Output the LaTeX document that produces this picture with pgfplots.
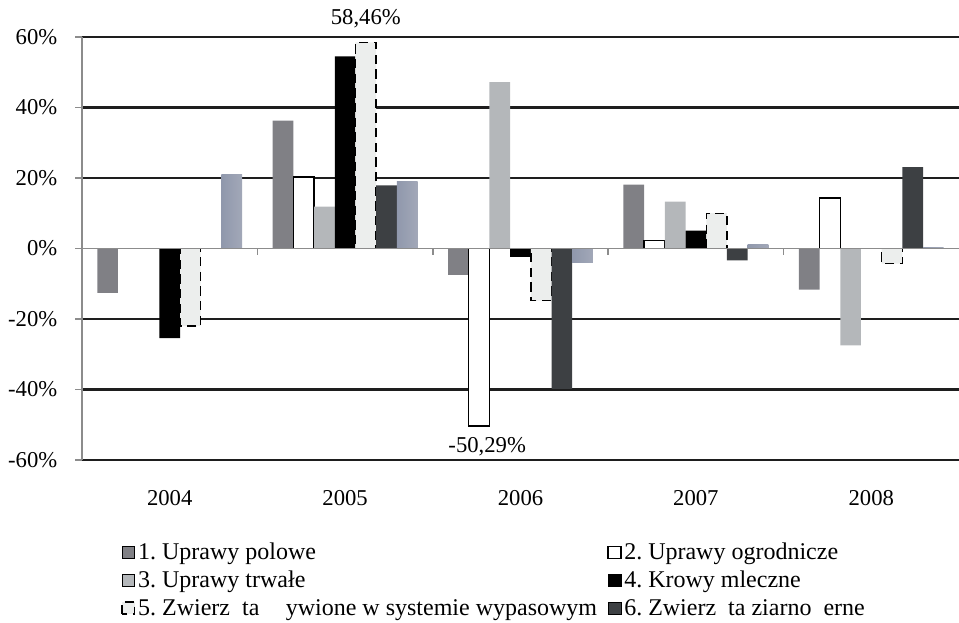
\documentclass[border=0pt]{standalone}
\usepackage{fontspec}
\setmainfont{Liberation Serif}
\usepackage{pgfplots}
\pgfplotsset{compat=1.18}
\definecolor{c1}{HTML}{808085}
\definecolor{c3}{HTML}{B4B7BA}
\definecolor{c5}{HTML}{ECEEED}
\definecolor{c6}{HTML}{3D4043}
\definecolor{c7l}{HTML}{9098AC}
\definecolor{c7m}{HTML}{ECEEF2}
\definecolor{c7r}{HTML}{A2A8B8}
\definecolor{axgray}{HTML}{8C8C8C}
\definecolor{gridc}{HTML}{1E1E1E}
\frenchspacing
\begin{document}
\begin{tikzpicture}
\begin{axis}[
  name=ax, at={(0,0)}, anchor=south west,
  width=657.75pt, height=317.25pt, scale only axis,
  xmin=-0.5, xmax=4.5, ymin=-60, ymax=60,
  ybar=0pt, bar width=0.118,
  clip=false,
  axis lines*=left,
  x axis line style={draw=none},
  y axis line style={axgray, line width=1.5pt},
  xtick={0,1,2,3,4}, xticklabels={2004,2005,2006,2007,2008},
  x tick style={draw=none},
  ytick={-60,-40,-20,20,40,60},
  extra y ticks={0}, extra y tick style={grid=none},
  y tick style={axgray, line width=1.2pt},
  tick align=outside, major tick length=5pt,
  yticklabel={\pgfmathprintnumber{\tick}\%},
  /pgf/number format/assume math mode=true,
  ticklabel style={font=\fontsize{17}{20}\selectfont},
  yticklabel style={xshift=-10pt},
  xticklabel style={yshift=-14pt},
  ymajorgrids, grid style={gridc, line width=2.1pt},
  legend style={
    at={(0.040,-0.19)}, anchor=north west, draw=none, fill=none,
    font=\fontsize{18}{21}\selectfont,
    nodes={inner xsep=2pt, inner ysep=0pt, anchor=west},
    /tikz/every even column/.append style={text height=12pt, text depth=4pt},
    row sep=7.4pt,
  },
  legend columns=2,
  legend cell align=left,
  legend image code/.code={\draw[#1] (0pt,-4.5pt) rectangle (9.5pt,4.5pt);},
]
\addplot[bar shift=-0.354, fill=c1, draw=none] coordinates {(0,-12.6) (1,36.3) (2,-7.5) (3,18.1) (4,-11.7)};
\addplot[bar shift=-0.236, fill=white, draw=black, line width=1.1pt] coordinates {(0,0) (1,20.3) (2,-50.29) (3,2.3) (4,14.3)};
\addplot[bar shift=-0.118, fill=c3, draw=none] coordinates {(0,0) (1,11.9) (2,47.2) (3,13.3) (4,-27.5)};
\addplot[bar shift=0, fill=black, draw=none] coordinates {(0,-25.4) (1,54.5) (2,-2.4) (3,5.1) (4,0)};
\addplot[bar shift=0.118, fill=c5, draw=black, line width=1.1pt, dash pattern=on 7pt off 4pt] coordinates {(0,-22) (1,58.46) (2,-14.8) (3,10) (4,-4.3)};
\addplot[bar shift=0.236, fill=c6, draw=none] coordinates {(0,0) (1,17.9) (2,-39.8) (3,-3.4) (4,23.1)};
\addplot[bar shift=0.354, draw=none, left color=c7l, middle color=c7m, right color=c7r, forget plot] coordinates {(0,21)};
\addplot[bar shift=0.354, draw=none, left color=c7l, middle color=c7m, right color=c7r, forget plot] coordinates {(1,19)};
\addplot[bar shift=0.354, draw=none, left color=c7l, middle color=c7m, right color=c7r, forget plot] coordinates {(2,-4.1)};
\addplot[bar shift=0.354, draw=none, left color=c7l, middle color=c7m, right color=c7r, forget plot] coordinates {(3,1)};
\addplot[bar shift=0.354, draw=none, left color=c7l, middle color=c7m, right color=c7r, forget plot] coordinates {(4,0.3)};
\legend{\makebox[350pt][l]{1. Uprawy polowe}, 2. Uprawy ogrodnicze, \makebox[350pt][l]{3. Uprawy trwałe}, 4. Krowy mleczne, \makebox[350pt][l]{5. Zwierz\hspace{0.5em}ta\hspace{1.1em}ywione w systemie wypasowym}, 6. Zwierz\hspace{0.5em}ta ziarno\hspace{0.5em}erne}
\draw[axgray, line width=1.3pt] (axis cs:-0.5,0) -- (axis cs:4.5,0);
\pgfplotsinvokeforeach{0.5,1.5,2.5,3.5}{\draw[axgray, line width=1.2pt] (axis cs:#1,0) -- ([yshift=-5pt]axis cs:#1,0);}
\node[font=\fontsize{17}{20}\selectfont] at (axis cs:1.118,65.3) {58,46\%};
\node[font=\fontsize{17}{20}\selectfont] at (axis cs:1.81,-56.2) {-50,29\%};
\end{axis}
\pgfresetboundingbox
\path ([shift={(-61.5pt,-122.25pt)}]ax.south west) rectangle ([shift={(0pt,27.75pt)}]ax.north east);
\end{tikzpicture}
\end{document}
